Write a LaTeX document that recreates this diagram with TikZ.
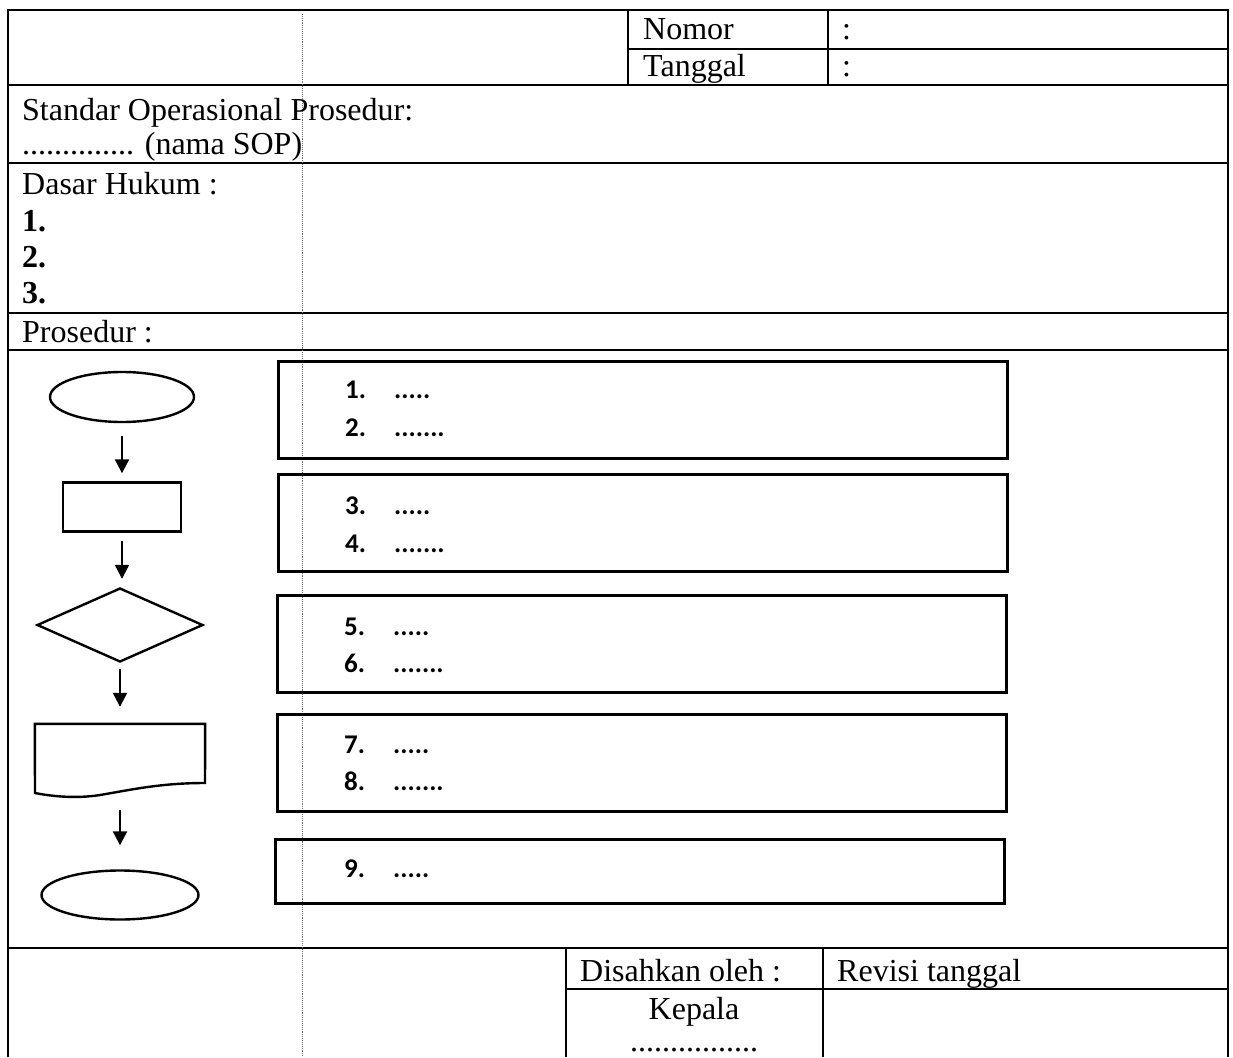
\documentclass[tikz,border=0pt]{standalone}
\usepackage{fontspec}
\setmainfont{Liberation Serif}
\newfontfamily\boxfont{Carlito}
\usetikzlibrary{shapes.geometric,arrows.meta,calc}

\tikzset{
  rule/.style={line width=2.2pt},
  foldline/.style={black!55, line width=0.9pt, densely dotted},
  shapeline/.style={draw, line width=2.4pt, inner sep=0pt},
  stepbox/.style={draw, line width=3pt, minimum width=729pt, minimum height=97pt,
    anchor=north west, inner sep=0pt},
  flowarrow/.style={line width=2.2pt, -{Triangle[length=14pt,width=14pt]}},
  formtext/.style={anchor=base west, inner sep=0pt, font=\fontsize{32}{36}\selectfont},
  stepnum/.style={anchor=base west, inner sep=0pt, font=\boxfont\bfseries\fontsize{27}{30}\selectfont},
}

\begin{document}
\begin{tikzpicture}[x=1pt, y=-1pt]
  \useasboundingbox (0,0) rectangle (1233,1057);

  % frame and table rules
  \draw[rule] (8,1057) -- (8,10) -- (1228,10) -- (1228,1057);
  \draw[rule] (628,10) -- (628,85);
  \draw[rule] (828,10) -- (828,85);
  \draw[rule] (628,49) -- (1228,49);
  \draw[rule] (8,85) -- (1228,85);
  \draw[rule] (8,163) -- (1228,163);
  \draw[rule] (8,313) -- (1228,313);
  \draw[rule] (8,350) -- (1228,350);
  \draw[rule] (8,948) -- (1228,948);
  \draw[rule] (566,948) -- (566,1057);
  \draw[rule] (823,948) -- (823,1057);
  \draw[rule] (566,989) -- (1228,989);
  \draw[foldline] (302,14) -- (302,1057);

  % header texts
  \node[formtext] (nomor) at (643,40) {Nomor};
  \node[formtext] (tanggal) at (643,76) {Tanggal};
  \node[formtext] (nomorval) at (842,40) {:};
  \node[formtext] (tanggalval) at (842,76) {:};
  \node[formtext] (sop) at (22,120) {Standar Operasional Prosedur:};
  \node[formtext] (sopname) at (22,154) {.............. (nama SOP)};
  \node[formtext] (dasar) at (22,194) {Dasar Hukum :};
  \node[formtext] (dasar1) at (22,231) {\textbf{1.}};
  \node[formtext] (dasar2) at (22,267) {\textbf{2.}};
  \node[formtext] (dasar3) at (22,303) {\textbf{3.}};
  \node[formtext] (prosedur) at (22,342) {Prosedur :};

  % flowchart symbols
  \node[shapeline, ellipse, minimum width=144pt, minimum height=50pt] (start) at (122,397) {};
  \node[shapeline, rectangle, minimum width=118pt, minimum height=49pt] (proses) at (122,507) {};
  \node[shapeline, diamond, minimum width=166pt, minimum height=74pt] (putusan) at (120,625) {};
  \node[minimum width=170pt, minimum height=66pt, inner sep=0pt] (dokumen) at (120,757) {};
  \draw[line width=2.4pt] (dokumen.north west) -- (dokumen.north east) -- (205,783)
    .. controls (160,783) and (130,790) .. (100,795)
    .. controls (75,799) and (50,796) .. (35,793) -- cycle;
  \node[shapeline, ellipse, minimum width=157pt, minimum height=49pt] (selesai) at (120,895) {};

  \draw[flowarrow, shorten <=13pt, shorten >=8pt] (start.south) -- (proses.north);
  \draw[flowarrow, shorten <=8pt, shorten >=8pt] (proses.south) -- (proses.south |- putusan.north);
  \draw[flowarrow, shorten <=6pt, shorten >=17pt] (putusan.south) -- (putusan.south |- dokumen.north);
  \draw[flowarrow, shorten <=20pt, shorten >=24pt] (dokumen.south) -- (selesai.north);

  % step boxes
  \node[stepbox] (box1) at (277,360) {};
  \node[stepbox] (box2) at (277,473) {};
  \node[stepbox] (box3) at (276,594) {};
  \node[stepbox] (box4) at (276,713) {};
  \node[stepbox, minimum height=64pt] (box5) at (274,838) {};

  \node[stepnum] (n1) at ($(box1.north west)+(68,38)$) {1.};
  \node[stepnum] (t1) at ($(box1.north west)+(117,38)$) {.....};
  \node[stepnum] (n2) at ($(box1.north west)+(68,76)$) {2.};
  \node[stepnum] (t2) at ($(box1.north west)+(117,76)$) {.......};
  \node[stepnum] (n3) at ($(box2.north west)+(68,41)$) {3.};
  \node[stepnum] (t3) at ($(box2.north west)+(117,41)$) {.....};
  \node[stepnum] (n4) at ($(box2.north west)+(68,79)$) {4.};
  \node[stepnum] (t4) at ($(box2.north west)+(117,79)$) {.......};
  \node[stepnum] (n5) at ($(box3.north west)+(68,41)$) {5.};
  \node[stepnum] (t5) at ($(box3.north west)+(117,41)$) {.....};
  \node[stepnum] (n6) at ($(box3.north west)+(68,78)$) {6.};
  \node[stepnum] (t6) at ($(box3.north west)+(117,78)$) {.......};
  \node[stepnum] (n7) at ($(box4.north west)+(68,40)$) {7.};
  \node[stepnum] (t7) at ($(box4.north west)+(117,40)$) {.....};
  \node[stepnum] (n8) at ($(box4.north west)+(68,77)$) {8.};
  \node[stepnum] (t8) at ($(box4.north west)+(117,77)$) {.......};
  \node[stepnum] (n9) at ($(box5.north west)+(70,39)$) {9.};
  \node[stepnum] (t9) at ($(box5.north west)+(119,39)$) {.....};

  % approval block
  \node[formtext] (disahkan) at (580,981) {Disahkan oleh :};
  \node[formtext] (revisi) at (837,981) {Revisi tanggal};
  \node[formtext, anchor=base] (kepala) at (694,1019) {Kepala};
  \node[formtext, anchor=base] (ttd) at (694,1051) {................};
\end{tikzpicture}
\end{document}
